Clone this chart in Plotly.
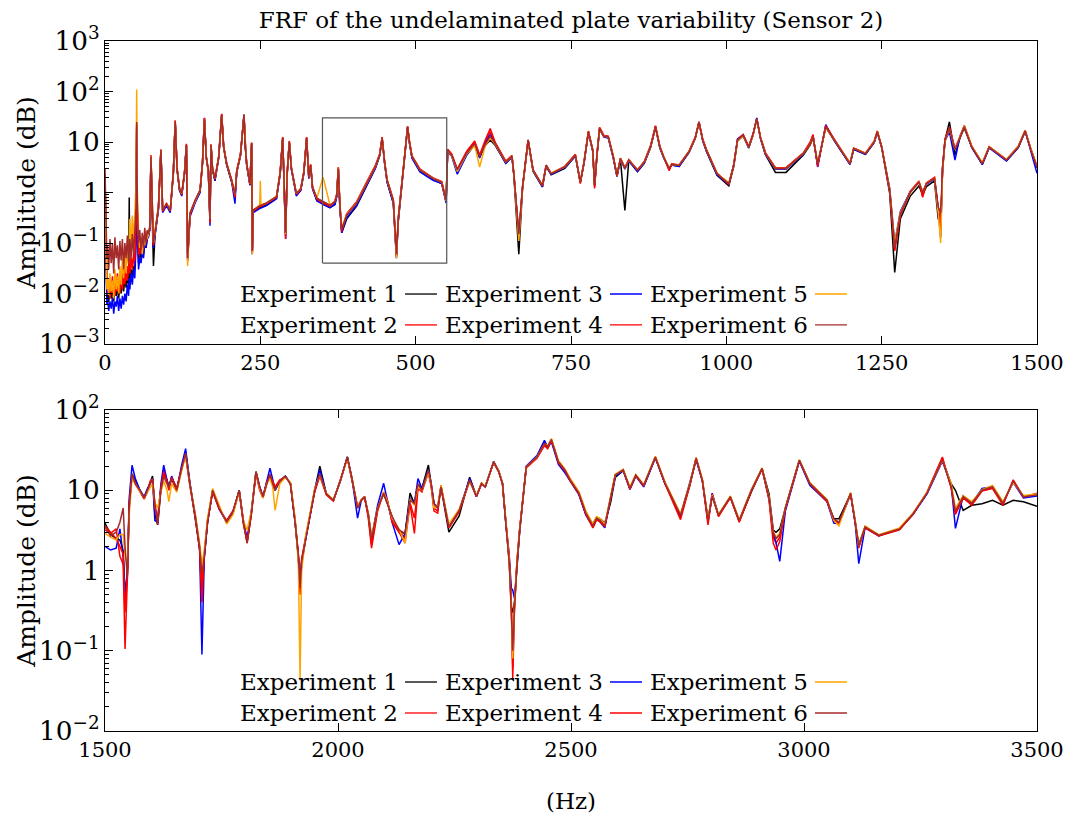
import plotly.graph_objects as go

# ---------------------------------------------------------------- data
EXPERIMENTS = ["Experiment 1", "Experiment 2", "Experiment 3",
               "Experiment 4", "Experiment 5", "Experiment 6"]

# Upper panel, 0-70 Hz (noise floor region)
FREQ_TOP_LOW = [0, 1, 2, 3, 4, 6, 8, 10, 12, 14, 16, 18, 20, 22, 24, 26, 28, 30, 32, 34,
                36, 38, 39, 40, 42, 44, 46, 48, 50, 51, 52, 54, 56, 58, 60, 62, 64, 66, 68, 70]

LOW_E1 = [1.8, 0.15, 0.015, 0.008, 0.012, 0.007, 0.011, 0.008, 0.013, 0.007,
          0.012, 0.009, 0.014, 0.008, 0.015, 0.01, 0.017, 0.011, 0.02, 0.013,
          0.022, 0.015, 0.8, 0.02, 0.03, 0.022, 0.035, 0.03, 0.15, 18,
          0.25, 0.04, 0.07, 0.05, 0.09, 0.06, 0.11, 0.08, 0.13, 0.14]
LOW_E2 = [2.0, 0.2, 0.02, 0.012, 0.009, 0.015, 0.008, 0.013, 0.01, 0.016,
          0.009, 0.014, 0.011, 0.018, 0.01, 0.02, 0.012, 0.025, 0.015, 0.03,
          0.018, 0.035, 0.04, 0.025, 0.045, 0.03, 0.05, 0.04, 0.2, 22,
          0.3, 0.05, 0.08, 0.06, 0.1, 0.07, 0.12, 0.09, 0.14, 0.14]
LOW_E3 = [1.5, 0.1, 0.01, 0.006, 0.008, 0.0045, 0.007, 0.005, 0.0085, 0.004,
          0.007, 0.0055, 0.009, 0.0045, 0.008, 0.005, 0.009, 0.006, 0.01, 0.007,
          0.015, 0.009, 0.02, 0.012, 0.025, 0.015, 0.03, 0.02, 0.1, 20,
          0.2, 0.03, 0.05, 0.04, 0.07, 0.05, 0.1, 0.08, 0.12, 0.13]
LOW_E4 = [2.2, 0.25, 0.03, 0.015, 0.02, 0.01, 0.018, 0.012, 0.022, 0.009,
          0.02, 0.013, 0.025, 0.011, 0.022, 0.014, 0.028, 0.016, 0.03, 0.02,
          0.035, 0.025, 0.045, 0.03, 0.05, 0.035, 0.06, 0.045, 0.25, 24,
          0.4, 0.06, 0.09, 0.07, 0.11, 0.08, 0.13, 0.1, 0.15, 0.15]
LOW_E5 = [2.5, 0.3, 0.03, 0.012, 0.02, 0.009, 0.025, 0.011, 0.018, 0.008,
          0.03, 0.012, 0.022, 0.01, 0.035, 0.015, 0.05, 0.02, 0.06, 0.025,
          0.08, 0.04, 0.1, 0.3, 0.08, 0.35, 0.1, 0.5, 1.5, 110,
          1.2, 0.15, 0.08, 0.12, 0.06, 0.14, 0.09, 0.17, 0.12, 0.15]
LOW_E6 = [3.0, 0.4, 0.06, 0.05, 0.09, 0.03, 0.12, 0.04, 0.1, 0.025,
          0.13, 0.05, 0.09, 0.03, 0.11, 0.045, 0.12, 0.03, 0.1, 0.05,
          0.14, 0.04, 0.08, 0.12, 0.05, 0.15, 0.06, 0.2, 0.5, 25,
          0.6, 0.1, 0.18, 0.07, 0.16, 0.08, 0.2, 0.1, 0.18, 0.15]

# Upper panel, 72-1500 Hz
FREQ_TOP_MAIN = [
    72, 74, 76, 78, 80.5, 86, 90, 92.8, 99, 105,
    110, 113, 116, 120, 123.5, 128, 131, 133, 136.8, 145,
    153, 157, 160, 163, 166.3, 169, 170.6, 173, 177, 183,
    187.8, 191, 195.8, 204, 209.2, 212, 218, 223.7, 226, 228,
    233.3, 236, 237.1, 238.7, 249, 250, 251, 260, 276, 282,
    286, 288, 290.7, 293, 296.6, 300, 308, 315, 320, 324.5,
    328, 331, 334, 341, 351, 362, 370, 373, 375.5, 378,
    381, 389, 405, 421, 435, 442, 446, 450, 454, 464,
    469, 472, 475, 480, 484, 487, 490, 494, 507, 528,
    542, 549, 551.5, 558, 567, 582, 595, 603, 612, 620,
    628, 645, 655, 658, 666, 672, 681, 689, 704, 710,
    718, 740, 757, 765, 771, 778, 785, 788, 792, 796,
    803, 810, 818, 824, 829.5, 836.7, 843, 857, 868, 878,
    886, 893, 899, 908, 912, 924, 940, 950, 956, 962,
    968, 985, 1004, 1012, 1018, 1027, 1036, 1043, 1049, 1055,
    1063, 1079, 1096, 1124, 1135, 1139.5, 1147, 1154, 1160, 1174,
    1199, 1205, 1224, 1238, 1243, 1250, 1263, 1271, 1280, 1296,
    1310, 1316, 1322, 1335, 1341, 1345, 1348, 1352, 1359, 1368,
    1376, 1383, 1395, 1412, 1423, 1451, 1470, 1481, 1490, 1500]

TOP_E1 = [
    0.19, 4.8, 0.35, 0.035, 0.15, 0.48, 6.7, 0.43, 0.58, 0.44,
    2.4, 24, 2.8, 1.1, 0.9, 2.4, 8.5, 0.05, 0.37, 0.66,
    1.05, 3.8, 27, 4.8, 2.6, 0.3, 8.5, 2.8, 1.7, 4.8,
    33, 7.6, 3.5, 1.6, 0.85, 2.5, 5.3, 33, 7.6, 3.5,
    1.4, 9.0, 0.07, 0.42, 0.5, 0.51, 0.51, 0.57, 0.77, 2.4,
    11.5, 1.9, 0.15, 2.1, 9.8, 2.9, 0.9, 1.1, 2.4, 11.5,
    1.9, 3.4, 1.2, 0.7, 0.58, 0.5, 0.58, 0.85, 2.9, 0.52,
    0.16, 0.3, 0.54, 1.35, 3.0, 5.3, 11.5, 3.8, 1.6, 0.62,
    0.055, 0.27, 0.65, 3.0, 7.8, 19.2, 9.6, 4.9, 2.6, 1.8,
    1.5, 0.65, 6.6, 5.4, 2.6, 5.5, 8.8, 5.0, 8.5, 11,
    8.6, 3.8, 5.0, 2.2, 0.06, 1.2, 10.5, 2.6, 1.3, 3.3,
    2.25, 3.0, 5.3, 1.6, 3.8, 15.5, 6.6, 1.4, 5.8, 18,
    12.8, 12.2, 4.9, 2.1, 4.6, 0.44, 4.3, 2.6, 3.8, 7.8,
    19.5, 7.8, 5.0, 3.0, 3.5, 3.3, 6.2, 11.8, 24.5, 10.8,
    6.5, 2.2, 1.35, 3.3, 10.5, 13.2, 7.6, 13.8, 29, 11.8,
    5.6, 2.5, 2.5, 5.5, 8.8, 12.2, 3.6, 8.6, 19.5, 10.6,
    3.6, 7.2, 5.7, 9.8, 15.8, 7.8, 0.95, 0.026, 0.3, 0.85,
    1.35, 0.9, 1.3, 1.7, 0.3, 0.25, 2.6, 11, 25, 5.5,
    12, 19, 7.8, 3.6, 7.8, 4.3, 7.8, 16.2, 7.0, 3.1]
TOP_E2 = [
    0.19, 5.0, 0.48, 0.09, 0.15, 0.49, 6.8, 0.44, 0.58, 0.44,
    2.4, 26, 2.9, 1.18, 0.94, 2.45, 8.9, 0.05, 0.38, 0.69,
    1.1, 4.1, 29, 5.1, 2.75, 0.28, 8.8, 3.0, 1.88, 5.1,
    35, 8.1, 3.75, 1.74, 0.85, 2.65, 5.6, 33, 8.1, 3.75,
    1.48, 9.6, 0.068, 0.44, 0.54, 0.55, 0.55, 0.61, 0.82, 2.55,
    12.2, 1.95, 0.14, 2.25, 10.2, 3.05, 0.94, 1.18, 2.55, 12.2,
    2.05, 3.55, 1.28, 0.76, 0.64, 0.55, 0.66, 0.92, 3.1, 0.58,
    0.18, 0.37, 0.64, 1.55, 3.3, 5.6, 12.2, 4.1, 1.78, 0.71,
    0.058, 0.31, 0.71, 3.25, 8.2, 20, 10.2, 5.3, 2.85, 1.92,
    1.62, 0.69, 7.0, 5.6, 2.85, 6.3, 9.8, 5.3, 10, 16,
    9.5, 4.1, 5.3, 2.35, 0.14, 1.3, 11, 2.78, 1.38, 3.48,
    2.38, 3.25, 5.6, 1.55, 4.05, 16, 7.0, 1.3, 6.1, 19,
    13.2, 12.8, 5.2, 2.15, 4.75, 3.05, 4.45, 2.78, 4.05, 8.2,
    20.5, 8.1, 5.15, 2.8, 3.65, 3.48, 6.5, 12.2, 25, 11.2,
    7.0, 2.38, 1.48, 3.55, 11, 13.8, 8.0, 14.2, 28.5, 12.2,
    6.0, 3.05, 3.05, 6.0, 9.5, 13.2, 3.5, 9.2, 20.5, 11,
    3.76, 7.5, 5.95, 10.2, 16.2, 8.1, 1.08, 0.075, 0.37, 1.02,
    1.65, 0.85, 1.52, 1.95, 0.5, 0.2, 3.1, 11.2, 19, 7.2,
    12.2, 20.5, 8.1, 3.77, 8.0, 4.45, 8.1, 16.8, 7.1, 3.25]
TOP_E3 = [
    0.18, 5.0, 0.45, 0.08, 0.14, 0.45, 6.9, 0.4, 0.55, 0.4,
    2.4, 25, 2.9, 1.1, 0.85, 2.4, 8.7, 0.045, 0.33, 0.62,
    1.0, 4.0, 30, 5.0, 2.7, 0.22, 8.7, 2.9, 1.75, 5.0,
    35, 8.0, 3.6, 1.6, 0.6, 2.5, 5.4, 35, 7.8, 3.6,
    1.4, 9.4, 0.06, 0.4, 0.48, 0.49, 0.49, 0.55, 0.75, 2.4,
    11.8, 1.8, 0.12, 2.1, 10, 2.9, 0.85, 1.1, 2.4, 11.8,
    1.9, 3.4, 1.2, 0.68, 0.58, 0.5, 0.58, 0.82, 3.0, 0.5,
    0.16, 0.32, 0.56, 1.35, 3.0, 5.3, 12, 3.8, 1.6, 0.62,
    0.05, 0.27, 0.64, 3.0, 7.8, 20, 9.6, 4.8, 2.55, 1.75,
    1.5, 0.62, 6.5, 5.2, 2.3, 5.5, 9.0, 4.8, 9.5, 14,
    9.0, 3.8, 5.0, 2.3, 0.13, 1.25, 10.9, 2.7, 1.3, 3.3,
    2.3, 3.1, 5.3, 1.6, 3.8, 15.5, 6.6, 1.39, 5.8, 18,
    12.5, 12, 4.8, 2.1, 4.5, 2.9, 4.2, 2.6, 3.8, 7.8,
    19.5, 7.6, 4.9, 2.9, 3.5, 3.3, 6.2, 12, 24.5, 10.5,
    6.6, 2.25, 1.45, 3.6, 11.5, 14, 7.6, 14, 30, 11.5,
    5.6, 2.9, 2.9, 5.7, 9.5, 13.5, 3.2, 8.5, 22, 10.5,
    3.6, 7.2, 5.7, 9.8, 15.5, 7.8, 1.2, 0.1, 0.42, 1.05,
    1.6, 1.05, 1.45, 1.85, 0.45, 0.13, 3.0, 10.5, 16, 4.4,
    13, 21, 7.8, 3.6, 7.6, 4.2, 7.8, 16.5, 6.5, 2.4]
TOP_E4 = [
    0.22, 5.5, 0.5, 0.09, 0.17, 0.52, 7.2, 0.42, 0.62, 0.43,
    2.6, 27, 3.1, 1.15, 0.9, 2.6, 9.2, 0.045, 0.36, 0.68,
    1.1, 4.2, 30, 5.2, 2.7, 0.25, 9.0, 3.1, 1.85, 5.2,
    36, 8.3, 3.7, 1.7, 0.8, 2.7, 5.8, 35, 8.2, 3.7,
    1.45, 9.8, 0.065, 0.43, 0.53, 0.54, 0.54, 0.6, 0.8, 2.6,
    12.5, 1.9, 0.12, 2.3, 10.5, 3.1, 0.92, 1.15, 2.6, 12.5,
    2.1, 3.6, 1.25, 0.74, 0.62, 0.54, 0.68, 0.95, 3.2, 0.55,
    0.17, 0.38, 0.66, 1.6, 3.4, 5.8, 12.5, 4.2, 1.8, 0.72,
    0.055, 0.32, 0.72, 3.3, 8.3, 20.5, 10.5, 5.4, 2.9, 1.95,
    1.65, 0.68, 7.2, 5.8, 2.9, 6.5, 10.5, 5.5, 11, 18.5,
    9.8, 4.2, 5.4, 2.3, 0.14, 1.3, 11, 2.8, 1.35, 3.5,
    2.4, 3.3, 5.7, 1.5, 4.1, 16.5, 7.0, 1.2, 6.2, 19.5,
    13.5, 13, 5.3, 2.1, 4.8, 3.1, 4.5, 2.8, 4.1, 8.5,
    21, 8.2, 5.2, 2.7, 3.7, 3.5, 6.6, 12.5, 25, 11.5,
    7.1, 2.4, 1.45, 3.6, 11, 14, 8.2, 14.5, 28, 12.5,
    6.1, 3.1, 3.1, 6.1, 10, 14, 3.3, 9.5, 21, 11.2,
    3.8, 7.6, 6.0, 10.5, 16.5, 8.2, 1.05, 0.07, 0.36, 1.05,
    1.7, 0.8, 1.55, 2.0, 0.5, 0.18, 3.2, 11.5, 19.5, 7.5,
    12.5, 21, 8.3, 3.8, 8.1, 4.5, 8.3, 17, 7.2, 3.3]
TOP_E5 = [
    0.2, 5.1, 0.48, 0.1, 0.16, 0.5, 6.9, 0.46, 0.6, 0.46,
    2.5, 25, 3.0, 1.2, 0.95, 2.5, 8.7, 0.035, 0.4, 0.7,
    1.12, 4.0, 28, 5.0, 2.8, 0.3, 8.5, 3.0, 1.9, 5.0,
    33, 8.0, 3.8, 1.75, 0.9, 2.6, 5.5, 33, 8.0, 3.8,
    1.5, 9.2, 0.06, 0.45, 0.56, 1.7, 0.56, 0.62, 0.85, 2.5,
    11.5, 2.0, 0.15, 2.2, 10, 3.0, 0.96, 1.2, 2.5, 11.5,
    2.0, 3.5, 1.3, 0.78, 2.0, 0.57, 0.66, 0.9, 3.1, 0.6,
    0.2, 0.37, 0.63, 1.5, 3.2, 5.5, 11.5, 4.0, 1.75, 0.7,
    0.05, 0.3, 0.7, 3.2, 8.0, 19, 10, 5.2, 2.8, 1.9,
    1.6, 0.68, 6.9, 5.3, 2.6, 5.8, 8.5, 3.2, 8.5, 12,
    9.0, 4.0, 5.2, 2.4, 0.11, 1.25, 10.5, 2.7, 1.4, 3.4,
    2.4, 3.2, 5.5, 1.65, 4.0, 15.5, 6.9, 1.5, 6.0, 18,
    13, 12.5, 5.1, 2.2, 4.7, 3.0, 4.4, 2.8, 4.0, 8.0,
    19.5, 8.0, 5.1, 3.1, 3.6, 3.5, 6.4, 12, 24.5, 11,
    6.9, 2.4, 1.55, 3.5, 10.5, 13.2, 7.9, 13.5, 28, 12,
    5.9, 3.0, 3.0, 5.9, 9.0, 12.5, 3.9, 9.0, 19, 10.9,
    3.8, 7.4, 6.0, 10.2, 16, 8.0, 1.15, 0.1, 0.4, 1.0,
    1.6, 1.05, 1.5, 1.9, 0.4, 0.1, 2.6, 10.5, 18, 7.2,
    12.5, 21, 8.2, 3.9, 8.0, 4.5, 8.2, 17, 7.4, 3.3]
TOP_E6 = [
    0.2, 5.1, 0.5, 0.1, 0.16, 0.5, 6.9, 0.45, 0.6, 0.45,
    2.5, 25, 3.0, 1.2, 0.96, 2.5, 8.7, 0.05, 0.39, 0.7,
    1.12, 4.0, 28, 5.0, 2.8, 0.3, 8.7, 3.0, 1.9, 5.0,
    34, 8.0, 3.8, 1.76, 0.9, 2.6, 5.5, 34, 8.0, 3.8,
    1.5, 9.4, 0.07, 0.45, 0.55, 0.56, 0.56, 0.62, 0.83, 2.5,
    11.8, 2.0, 0.16, 2.2, 10, 3.0, 0.96, 1.2, 2.5, 11.8,
    2.0, 3.5, 1.3, 0.77, 0.65, 0.56, 0.65, 0.9, 3.0, 0.6,
    0.19, 0.36, 0.62, 1.5, 3.2, 5.5, 11.8, 4.0, 1.75, 0.7,
    0.06, 0.3, 0.7, 3.2, 8.0, 19.6, 10, 5.2, 2.8, 1.9,
    1.6, 0.7, 6.9, 5.5, 2.8, 6.0, 9.3, 5.1, 9.0, 13,
    9.3, 4.0, 5.2, 2.4, 0.15, 1.29, 10.9, 2.76, 1.39, 3.46,
    2.37, 3.2, 5.5, 1.62, 4.0, 15.9, 6.9, 1.39, 6.0, 18.5,
    13, 12.6, 5.1, 2.2, 4.7, 3.0, 4.4, 2.76, 4.0, 8.0,
    20, 8.0, 5.1, 3.0, 3.6, 3.46, 6.4, 12, 25, 11,
    6.9, 2.37, 1.5, 3.5, 10.9, 13.6, 7.9, 14, 29, 12,
    5.9, 3.0, 3.0, 5.9, 9.0, 12.6, 3.74, 9.0, 20, 10.9,
    3.74, 7.4, 5.9, 10, 15.9, 8.0, 1.1, 0.083, 0.38, 1.0,
    1.6, 1.0, 1.5, 1.9, 0.52, 0.4, 3.0, 10.9, 18.5, 7.0,
    12, 20, 8.0, 3.74, 7.9, 4.4, 8.0, 16.6, 7.0, 3.2]

# Lower panel, 1500-3500 Hz
FREQ_BOT = [
    1500, 1512, 1524, 1532, 1539, 1543, 1548, 1552, 1558, 1565,
    1575, 1584, 1591, 1597, 1602, 1607, 1613, 1620, 1626, 1633,
    1637, 1643, 1654, 1664, 1673, 1682, 1694, 1703, 1708, 1713,
    1720, 1731, 1745, 1761, 1775, 1788, 1797, 1805, 1814, 1824,
    1832, 1839, 1847, 1854, 1860, 1865, 1875, 1887, 1898, 1908,
    1915, 1918.6, 1922, 1931, 1950, 1961, 1975, 1990, 2005, 2020,
    2030, 2042, 2050, 2057, 2065, 2072, 2085, 2098, 2106, 2116,
    2131, 2144, 2154.6, 2164, 2171.6, 2180, 2194, 2200, 2206, 2214,
    2221, 2230, 2238, 2260, 2282.5, 2297, 2308, 2316, 2334, 2345,
    2353, 2360, 2367.5, 2372, 2375, 2378.6, 2384, 2390, 2404, 2427,
    2443, 2450, 2458, 2473, 2487, 2498.5, 2517, 2532, 2547, 2555,
    2563, 2572.5, 2585, 2595, 2612, 2626.5, 2639, 2656, 2681, 2702,
    2735, 2755, 2768.5, 2782, 2794, 2803, 2816.5, 2842, 2861, 2887,
    2910, 2925, 2934, 2940, 2948, 2960, 2990, 3012.5, 3049.5, 3064,
    3075, 3100, 3110, 3117.5, 3131, 3160.5, 3205, 3234, 3264, 3297,
    3316, 3325, 3341.6, 3360, 3382, 3404.6, 3427, 3449, 3471, 3500]

BOT_E1 = [
    3.9, 2.8, 2.5, 2.4, 1.8, 0.5, 0.9, 6.5, 16, 13,
    10, 8.0, 10, 12.5, 15, 5.0, 3.7, 10.5, 16, 13.5,
    11, 14.5, 10.5, 19, 30, 12.5, 4.6, 1.9, 0.42, 1.5,
    4.0, 10, 6.0, 4.0, 5.5, 10, 4.2, 2.3, 5.2, 17,
    11, 8.3, 12.5, 15, 12, 10, 13, 15, 12.2, 4.0,
    1.4, 0.55, 1.2, 2.6, 10, 20, 9.0, 7.5, 13, 26,
    14, 6.0, 7.5, 8.3, 5.0, 2.5, 6.0, 9.0, 6.8, 4.7,
    3.0, 2.9, 9.2, 6.8, 12, 10.5, 20.6, 12.5, 6.8, 6.0,
    11, 5.5, 3.0, 4.8, 14.5, 8.5, 12.2, 11, 22.7, 17,
    12.2, 4.0, 1.3, 0.35, 0.3, 0.4, 1.2, 3.2, 19.6, 26,
    40, 34, 42, 22.5, 17.5, 13.2, 9.0, 5.0, 3.8, 4.6,
    4.4, 3.9, 7.0, 14.5, 17.5, 10.5, 15.3, 11.3, 25.5, 12,
    4.9, 11.5, 24.5, 13.2, 4.2, 8.4, 4.9, 8.2, 4.1, 9.5,
    18.5, 9.0, 3.2, 3.0, 3.3, 6.0, 23.5, 12.2, 7.3, 4.4,
    4.4, 9.0, 4.0, 2.1, 3.5, 2.75, 3.3, 5.1, 9.2, 24,
    12, 10, 5.6, 6.5, 6.8, 7.5, 6.5, 7.5, 7.2, 6.3]
BOT_E2 = [
    3.2, 2.9, 3.3, 1.5, 1.2, 0.105, 0.8, 6.5, 15.5, 12.5,
    9.8, 7.8, 9.8, 12.5, 14, 6.5, 4.2, 10.5, 18, 13.5,
    11, 13.5, 10, 18, 28, 12, 4.6, 1.9, 0.7, 1.5,
    4.0, 9.8, 6.0, 4.1, 5.5, 9.8, 3.9, 2.2, 5.0, 16.5,
    10.5, 8.2, 12.2, 15.5, 12.5, 10.5, 13.2, 14.8, 12, 4.0,
    1.5, 0.55, 1.35, 2.6, 9.8, 15.5, 8.9, 7.4, 13.2, 25.5,
    13.8, 6.1, 7.5, 8.2, 4.8, 2.1, 5.8, 9.3, 7.2, 4.3,
    3.1, 2.5, 7.0, 4.5, 11, 9.8, 17, 11.5, 6.0, 5.5,
    11.2, 5.9, 3.4, 5.5, 13.2, 8.4, 12.1, 11.1, 22.4, 17,
    12.1, 4.1, 1.3, 0.35, 0.045, 0.33, 1.25, 3.3, 19.3, 25.5,
    37, 34, 42.5, 22.4, 17.7, 13.2, 9.1, 5.1, 3.5, 4.4,
    4.1, 3.55, 8.1, 15.5, 17.9, 10.5, 15.4, 11.4, 26, 12.1,
    4.6, 11.8, 25.2, 13.2, 4.0, 8.8, 4.8, 8.2, 4.1, 9.9,
    18.6, 7.8, 2.6, 2.2, 2.6, 5.9, 23.6, 12.1, 7.3, 4.3,
    3.9, 9.1, 3.95, 1.95, 3.45, 2.72, 3.25, 5.05, 9.3, 25,
    10.8, 5.2, 8.1, 6.7, 9.9, 10.8, 6.7, 13.2, 8.25, 9.0]
BOT_E3 = [
    2.0, 1.8, 1.9, 3.3, 1.5, 0.46, 1.0, 8.0, 20.5, 14,
    10, 8.3, 10.5, 12, 14, 4.2, 4.0, 12, 20.5, 13,
    10.5, 15, 10, 20, 33, 12.5, 4.7, 1.9, 0.09, 1.4,
    4.0, 10, 5.8, 4.0, 5.2, 10, 4.0, 2.5, 5.5, 17,
    11, 8.3, 13, 18.8, 13.5, 10, 12.8, 15, 12, 4.0,
    1.5, 0.6, 1.3, 2.6, 10, 18, 9.0, 7.5, 13, 26,
    14, 4.5, 7.5, 8.3, 5.0, 2.5, 6.5, 12.2, 7.5, 4.0,
    2.1, 2.9, 8.0, 6.8, 14, 10.5, 18, 12, 6.8, 6.2,
    11, 6.0, 3.5, 5.6, 14, 8.3, 12.2, 11, 22.7, 17.5,
    12.2, 4.0, 1.5, 0.6, 0.57, 0.45, 1.1, 3.2, 20, 27,
    42, 34, 40, 21, 16.5, 12.8, 8.8, 4.9, 3.5, 4.4,
    4.0, 3.4, 7.8, 15, 17.5, 10.2, 15, 11, 25.5, 12,
    4.8, 12, 24, 13, 4.2, 9.2, 4.9, 8.2, 4.2, 10,
    18.5, 8.0, 3.0, 2.2, 1.3, 5.5, 23, 11.5, 7.2, 3.9,
    3.8, 9.0, 3.8, 1.22, 3.4, 2.7, 3.3, 5.0, 9.0, 23,
    11.5, 3.35, 8.5, 6.8, 10.5, 11, 7.0, 12.5, 8.0, 8.5]
BOT_E4 = [
    3.6, 3.0, 2.5, 2.0, 1.6, 0.3, 0.9, 7.0, 15, 12,
    9.5, 7.8, 9.5, 13, 13.5, 6.0, 4.5, 11, 17, 13,
    10, 14.5, 10.5, 18.5, 27, 11.5, 4.5, 1.8, 0.4, 1.6,
    4.2, 9.5, 5.8, 4.2, 5.6, 9.6, 3.8, 2.3, 5.2, 16,
    10, 8.0, 12.5, 15, 13, 11, 13.5, 14.5, 12.2, 4.2,
    1.6, 0.5, 1.4, 2.7, 9.5, 15, 8.8, 7.3, 13.5, 25,
    13.5, 6.2, 7.6, 8.2, 4.5, 1.9, 5.5, 9.5, 7.5, 4.0,
    3.0, 2.2, 6.8, 2.9, 10.5, 9.5, 16.5, 11, 5.5, 5.2,
    11.5, 5.8, 3.4, 5.4, 13, 8.5, 12, 11.2, 22, 17,
    12, 4.2, 1.5, 0.4, 0.06, 0.35, 1.3, 3.4, 19, 25,
    36, 33, 42, 22, 17.5, 13, 9.0, 5.0, 3.4, 4.3,
    4.0, 3.5, 8.2, 15.5, 18, 10.3, 15.3, 11.3, 26, 12,
    4.3, 11.5, 25.5, 13, 3.7, 9.0, 4.7, 8.1, 4.0, 9.8,
    18.5, 7.5, 2.2, 1.8, 2.3, 5.8, 23.5, 12, 7.2, 4.2,
    3.8, 9.0, 3.9, 1.9, 3.4, 2.7, 3.2, 5.0, 9.5, 26,
    10.5, 5.0, 8.0, 6.5, 9.8, 10.5, 6.5, 13.5, 8.2, 9.2]
BOT_E5 = [
    2.9, 2.6, 2.4, 2.8, 2.8, 1.5, 1.2, 5.0, 14, 12,
    9.8, 8.0, 9.5, 11, 12, 7.0, 6.0, 9.5, 13, 10,
    7.2, 12, 9.5, 17, 27, 12, 5.0, 2.2, 1.2, 1.8,
    4.5, 10.5, 6.5, 3.8, 5.0, 9.8, 4.2, 3.2, 5.5, 17,
    10.5, 8.0, 12, 14, 11, 5.6, 12, 14.5, 12.5, 4.5,
    1.2, 0.043, 1.0, 2.8, 10.5, 15.5, 9.2, 7.6, 13, 25,
    14, 6.2, 7.6, 8.4, 5.2, 2.7, 6.0, 9.5, 7.2, 4.5,
    3.3, 2.2, 7.8, 6.5, 11, 10, 16.5, 12, 6.0, 6.5,
    11.5, 6.5, 3.8, 5.8, 13, 8.6, 12.4, 11.2, 22.5, 17.5,
    12.4, 4.3, 1.3, 0.3, 0.08, 0.35, 1.3, 3.3, 19.5, 26,
    38, 36, 44, 23.5, 18.5, 14, 9.6, 5.5, 3.8, 4.7,
    4.4, 3.8, 8.3, 15.8, 18.2, 11, 15.8, 11.8, 26.5, 12.6,
    5.1, 12.2, 25.5, 13.8, 4.4, 8.7, 5.0, 8.5, 4.3, 10.2,
    19, 8.2, 3.1, 2.6, 2.9, 6.1, 24, 12.5, 7.7, 4.2,
    3.6, 9.4, 4.2, 2.0, 3.6, 2.8, 3.4, 5.2, 9.4, 23.5,
    12, 6.0, 8.6, 7.2, 10.2, 11.5, 7.2, 12.5, 8.6, 9.0]
BOT_E6 = [
    3.5, 2.7, 3.0, 4.0, 6.0, 2.0, 0.8, 6.0, 16, 12,
    10, 8.0, 10, 12, 14, 7.0, 3.7, 10, 15, 12,
    11, 14, 10, 18, 29, 12, 4.7, 2.0, 0.9, 1.5,
    4.0, 10, 6.0, 4.0, 5.5, 10, 4.0, 2.2, 5.0, 17,
    11, 8.3, 12, 16, 12, 10, 13, 15, 12, 4.0,
    1.5, 0.6, 1.3, 2.6, 10, 16, 9.0, 7.5, 13, 26,
    14, 6.0, 7.5, 8.3, 5.0, 2.5, 6.0, 9.2, 7.0, 4.7,
    3.2, 2.9, 7.5, 6.8, 12, 10, 17.9, 12, 6.8, 6.0,
    11, 6.0, 3.5, 5.6, 13.4, 8.3, 12.2, 11, 22.7, 17,
    12.2, 4.0, 1.22, 0.3, 0.1, 0.32, 1.2, 3.2, 19.6, 26,
    38, 35, 43, 22.7, 17.9, 13.4, 9.2, 5.2, 3.6, 4.5,
    4.2, 3.6, 8.0, 15.5, 17.9, 10.6, 15.5, 11.5, 26, 12.2,
    4.9, 12, 25, 13.4, 4.2, 8.5, 4.9, 8.3, 4.2, 10,
    18.8, 8.0, 3.0, 2.5, 2.8, 6.0, 23.7, 12.2, 7.5, 4.4,
    4.0, 9.2, 4.0, 2.0, 3.5, 2.75, 3.3, 5.1, 9.2, 24,
    11, 5.5, 8.3, 6.9, 10, 11, 6.9, 13, 8.3, 8.7]

# Zoomed frequency band marked on the upper panel
BOX_HZ = (350, 550)
BOX_AMP = (0.04, 30)

TOP_TICKS = [0, 250, 500, 750, 1000, 1250, 1500]
BOT_TICKS = [1500, 2000, 2500, 3000, 3500]

# ---------------------------------------------------------------- style
COLORS = ["#000000", "#ff0000", "#0000ff", "#ff0000", "#ffa500", "#a52a2a"]
FONT = "DejaVu Serif"
LINE_W = 1.5

top_series = [LOW_E1 + TOP_E1, LOW_E2 + TOP_E2, LOW_E3 + TOP_E3,
              LOW_E4 + TOP_E4, LOW_E5 + TOP_E5, LOW_E6 + TOP_E6]
bot_series = [BOT_E1, BOT_E2, BOT_E3, BOT_E4, BOT_E5, BOT_E6]
freq_top = FREQ_TOP_LOW + FREQ_TOP_MAIN

for s in top_series:
    assert len(s) == len(freq_top), (len(s), len(freq_top))
for s in bot_series:
    assert len(s) == len(FREQ_BOT), (len(s), len(FREQ_BOT))

fig = go.Figure()

for name, amp, col in zip(EXPERIMENTS, top_series, COLORS):
    fig.add_trace(go.Scatter(x=freq_top, y=amp, mode="lines", name=name,
                             line=dict(color=col, width=LINE_W),
                             xaxis="x", yaxis="y", showlegend=False))
for name, amp, col in zip(EXPERIMENTS, bot_series, COLORS):
    fig.add_trace(go.Scatter(x=FREQ_BOT, y=amp, mode="lines", name=name,
                             line=dict(color=col, width=LINE_W),
                             xaxis="x2", yaxis="y2", showlegend=False))

# rectangle around the 350-550 Hz band
fig.add_trace(go.Scatter(
    x=[BOX_HZ[0], BOX_HZ[1], BOX_HZ[1], BOX_HZ[0], BOX_HZ[0]],
    y=[BOX_AMP[0], BOX_AMP[0], BOX_AMP[1], BOX_AMP[1], BOX_AMP[0]],
    mode="lines", line=dict(color="#555555", width=1.2),
    xaxis="x", yaxis="y", showlegend=False, hoverinfo="skip"))

# ---------------------------------------------------------------- axes
axis_common = dict(showgrid=False, zeroline=False, showline=True,
                   linecolor="black", linewidth=1.4, ticks="inside",
                   tickcolor="black", tickwidth=1.1,
                   tickfont=dict(family=FONT, size=21, color="black"))

TOP_DOMAIN = [387 / 690, 1]
BOT_DOMAIN = [0, 321 / 690]

fig.update_layout(
    width=1075, height=821,
    margin=dict(l=105, r=38, t=41, b=90),
    paper_bgcolor="white", plot_bgcolor="white",
    font=dict(family=FONT, color="black"),
    title=dict(text="FRF of the undelaminated plate variability (Sensor 2)",
               x=0.5, xref="paper", y=1 - 20 / 821, yanchor="middle",
               font=dict(family=FONT, size=23, color="black")),
    xaxis=dict(domain=[0, 1], anchor="y", range=[0, 1500],
               tickvals=TOP_TICKS, ticklen=8, mirror="ticks", **axis_common),
    yaxis=dict(domain=TOP_DOMAIN, anchor="x", type="log", range=[-3, 3],
               dtick=1, exponentformat="power", ticklen=8, mirror=True,
               minor=dict(ticks="inside", ticklen=4, tickcolor="black",
                          dtick="D1", showgrid=False),
               **axis_common),
    xaxis2=dict(domain=[0, 1], anchor="y2", range=[1500, 3500],
                tickvals=BOT_TICKS, ticklen=8, mirror="ticks",
                title=dict(text="(Hz)", standoff=31,
                           font=dict(family=FONT, size=23, color="black")),
                **axis_common),
    yaxis2=dict(domain=BOT_DOMAIN, anchor="x2", type="log", range=[-2, 2],
                dtick=1, exponentformat="power", ticklen=8, mirror=True,
                minor=dict(ticks="inside", ticklen=4, tickcolor="black",
                           dtick="D1", showgrid=False),
                **axis_common),
)

# y-axis titles, placed beside each panel
for dom in (TOP_DOMAIN, BOT_DOMAIN):
    fig.add_annotation(x=-0.0845, y=(dom[0] + dom[1]) / 2, xref="paper",
                       yref="paper", text="Amplitude (dB)", textangle=-90,
                       showarrow=False, xanchor="center", yanchor="middle",
                       font=dict(family=FONT, size=25, color="black"))

# ---------------------------------------------------------------- legends
# three columns, two rows, label followed by a short line sample
LEG_TEXT_RIGHT = [0.3165, 0.5365, 0.7564]
LEG_LINE_X = [(0.3219, 0.3562), (0.5418, 0.5762), (0.7618, 0.7961)]
LEG_ROWS = {"top": (0.6333, 0.5885), "bot": (0.0710, 0.0261)}

for rows in LEG_ROWS.values():
    for i, (name, col) in enumerate(zip(EXPERIMENTS, COLORS)):
        c, r = divmod(i, 2)
        y = rows[r]
        fig.add_annotation(x=LEG_TEXT_RIGHT[c], y=y, xref="paper", yref="paper",
                           text=name, showarrow=False, xanchor="right",
                           yanchor="middle",
                           font=dict(family=FONT, size=23, color="black"))
        fig.add_shape(type="line", xref="paper", yref="paper",
                      x0=LEG_LINE_X[c][0], x1=LEG_LINE_X[c][1], y0=y, y1=y,
                      line=dict(color=col, width=1.3))

fig.write_html("out.html")
